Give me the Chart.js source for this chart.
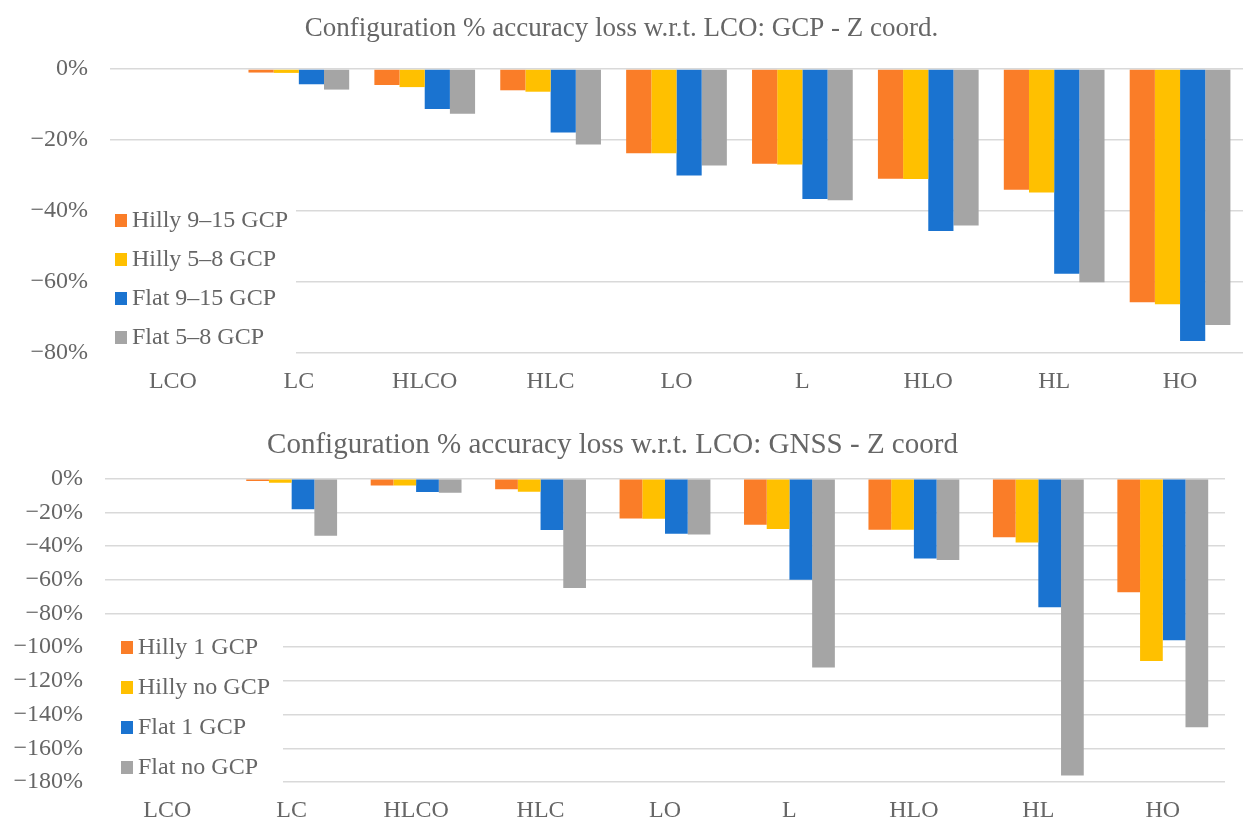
<!DOCTYPE html>
<html>
<head>
<meta charset="utf-8">
<script src="https://cdn.jsdelivr.net/npm/chart.js@4/dist/chart.umd.min.js"></script>
<style>
  html, body { margin: 0; background: #fff; overflow: hidden; width: 1244px; height: 820px; }
  .box { position: absolute; left: 0; }
</style>
</head>
<body>
<div class="box" style="top:0"><canvas id="gcp" width="1244" height="411"></canvas></div>
<div class="box" style="top:408px"><canvas id="gnss" width="1244" height="432"></canvas></div>
<script>
"use strict"

// Kategorier
const configs = ['LCO', 'LC', 'HLCO', 'HLC', 'LO', 'L', 'HLO', 'HL', 'HO'];

// Övre diagram: GCP
const gcpLabels = ['Hilly 9–15 GCP', 'Hilly 5–8 GCP', 'Flat 9–15 GCP', 'Flat 5–8 GCP'];
const gcpHilly915 = [0, -1.0, -4.5, -6.0, -23.7, -26.7, -30.9, -34.0, -65.7];
const gcpHilly58  = [0, -1.1, -5.1, -6.4, -23.7, -26.9, -31.0, -34.8, -66.3];
const gcpFlat915  = [0, -4.3, -11.3, -17.9, -30.0, -36.6, -45.6, -57.7, -76.6];
const gcpFlat58   = [0, -5.8, -12.6, -21.3, -27.2, -37.0, -44.1, -60.1, -72.1];

// Nedre diagram: GNSS
const gnssLabels = ['Hilly 1 GCP', 'Hilly no GCP', 'Flat 1 GCP', 'Flat no GCP'];
const gnssHilly1  = [0, -1.4, -4.0, -6.3, -23.6, -27.4, -30.3, -34.7, -67.4];
const gnssHillyNo = [0, -2.4, -4.0, -7.7, -23.8, -29.9, -30.3, -37.9, -108.2];
const gnssFlat1   = [0, -18.2, -7.9, -30.5, -32.7, -60.0, -47.4, -76.3, -95.9];
const gnssFlatNo  = [0, -33.9, -8.3, -64.8, -33.1, -112.0, -48.2, -176.2, -147.5];

const colors = ['#FA7D28', '#FFC000', '#1A73D0', '#A5A5A5'];
const textColor = '#666666';
const serif = '"Liberation Serif", "DejaVu Serif", serif';

// Legend inne i diagrammet, med vit bakgrund
const insideLegend = {
    id: 'insideLegend',
    afterDraw(chart, args, opts) {
        const ctx = chart.ctx;
        const area = chart.chartArea;
        const x0 = area.left + opts.dx;
        ctx.save();
        ctx.fillStyle = '#fff';
        ctx.fillRect(area.left, opts.top, opts.width, opts.height);
        ctx.font = '24px ' + serif;
        ctx.textBaseline = 'middle';
        chart.data.datasets.forEach((ds, i) => {
            const y = opts.first + i * opts.step;
            ctx.fillStyle = ds.backgroundColor;
            ctx.fillRect(x0, y - 6, 12, 13);
            ctx.fillStyle = textColor;
            ctx.fillText(ds.label, x0 + 17, y + 1);
        });
        ctx.restore();
    }
};

function pct(v) {
    return (v < 0 ? '\u2212' : '') + Math.abs(v) + '%';
}

function makeChart(id, title, labels, series, opt) {
    const canvas = document.getElementById(id);

    new Chart(canvas, {
        type: 'bar',
        data: {
            labels: configs,
            datasets: series.map((data, i) => ({
                label: labels[i],
                data: data,
                backgroundColor: colors[i],
                borderWidth: 0,
                categoryPercentage: opt.catPct,
                barPercentage: 1.0
            }))
        },
        options: {
            responsive: false,
            animation: false,
            devicePixelRatio: 1,
            layout: { padding: { left: 0, right: opt.right, top: 0, bottom: 0 } },
            plugins: {
                legend: { display: false },
                tooltip: { enabled: false },
                title: {
                    display: true,
                    text: title,
                    color: textColor,
                    font: { family: serif, size: opt.titleSize, weight: 'normal', lineHeight: 1.2 },
                    padding: { top: opt.titleTop, bottom: opt.titleBottom }
                },
                insideLegend: opt.legend
            },
            scales: {
                x: {
                    grid: { display: false, drawTicks: false },
                    border: { display: false },
                    ticks: {
                        color: textColor,
                        padding: 17,
                        font: { family: serif, size: 24, lineHeight: 1 }
                    }
                },
                y: {
                    min: opt.min,
                    max: 0,
                    afterFit(scale) { scale.width = opt.yWidth; },
                    grid: { color: '#D9D9D9', lineWidth: 1.5, drawTicks: false },
                    border: { display: false },
                    ticks: {
                        stepSize: 20,
                        color: textColor,
                        padding: 22,
                        font: { family: serif, size: 24, lineHeight: 1 },
                        callback: pct
                    }
                }
            }
        },
        plugins: [insideLegend]
    });
}

makeChart('gcp', 'Configuration % accuracy loss w.r.t. LCO: GCP - Z coord.', gcpLabels,
    [gcpHilly915, gcpHilly58, gcpFlat915, gcpFlat58],
    {
        catPct: 0.8, right: 1, titleSize: 27, titleTop: 13, titleBottom: 23.6,
        min: -80, yWidth: 110,
        legend: { dx: 5, top: 196, width: 186, height: 164, first: 220, step: 39 }
    });

makeChart('gnss', 'Configuration % accuracy loss w.r.t. LCO: GNSS - Z coord', gnssLabels,
    [gnssHilly1, gnssHillyNo, gnssFlat1, gnssFlatNo],
    {
        catPct: 0.73, right: 19, titleSize: 29, titleTop: 19.6, titleBottom: 16.3,
        min: -180, yWidth: 105,
        legend: { dx: 16, top: 222, width: 178, height: 166, first: 239, step: 40 }
    });
</script>
</body>
</html>
